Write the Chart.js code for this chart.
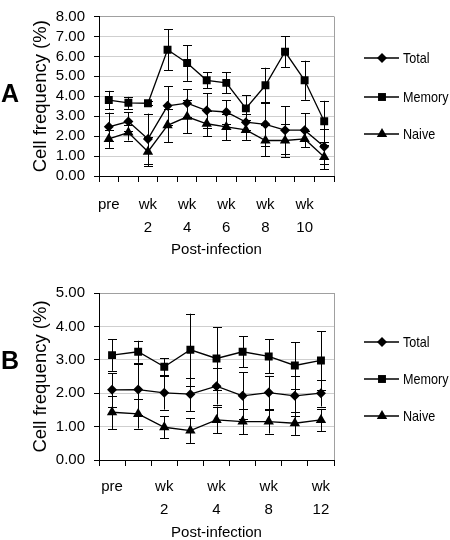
<!DOCTYPE html>
<html><head><meta charset="utf-8">
<script src="https://cdn.jsdelivr.net/npm/chart.js@4.4.1/dist/chart.umd.min.js"></script>
<style>
body{margin:0;background:#fff;width:450px;height:540px;overflow:hidden}
canvas{display:block}
</style>
</head><body>
<canvas id="chartA" width="450" height="270"></canvas>
<canvas id="chartB" width="450" height="270"></canvas>
<script>
// ---------- Panel A data ----------
const categoriesA = ['pre','wk 1','wk 2','wk 3','wk 4','wk 5','wk 6','wk 7','wk 8','wk 9','wk 10','wk 11'];
const totalA     = [2.47, 2.73, 1.86, 3.52, 3.65, 3.28, 3.21, 2.70, 2.59, 2.30, 2.30, 1.47];
const totalErrA  = [0.71, 0.46, 1.27, 0.98, 0.69, 0.86, 0.60, 0.40, 1.10, 1.19, 0.85, 0.88];
const memoryA    = [3.81, 3.67, 3.65, 6.33, 5.67, 4.80, 4.67, 3.39, 4.55, 6.23, 4.80, 2.75];
const memoryErrA = [0.46, 0.30, 0.10, 1.03, 0.90, 0.40, 0.53, 0.67, 0.88, 0.77, 0.98, 1.02];
const naiveA     = [1.86, 2.18, 1.22, 2.54, 2.97, 2.62, 2.46, 2.31, 1.78, 1.78, 1.86, 0.95];
const naiveErrA  = [0.45, 0.40, 0.72, 0.84, 0.83, 0.63, 0.66, 0.50, 0.78, 0.82, 0.40, 0.60];
const yTicksA    = [0, 8];

// ---------- Panel B data ----------
const categoriesB = ['pre','wk 1','wk 2','wk 3','wk 4','wk 6','wk 8','wk 10','wk 12'];
const totalB     = [2.10, 2.11, 2.01, 1.97, 2.21, 1.92, 2.02, 1.92, 2.00];
const totalErrB  = [0.50, 0.75, 0.50, 0.50, 0.55, 0.70, 0.50, 0.60, 0.40];
const memoryB    = [3.14, 3.24, 2.79, 3.30, 3.04, 3.24, 3.10, 2.83, 2.98];
const memoryErrB = [0.47, 0.33, 0.25, 1.08, 0.93, 0.46, 0.51, 0.70, 0.87];
const naiveB     = [1.43, 1.38, 0.98, 0.88, 1.20, 1.15, 1.15, 1.10, 1.20];
const naiveErrB  = [0.50, 0.44, 0.33, 0.37, 0.40, 0.38, 0.36, 0.35, 0.33];
const yTicksB    = [0, 5];

const seriesNames = ['Total','Memory','Naive'];
const FONT = "'Liberation Sans', Arial, sans-serif";

const errorBarPlugin = {
  id: 'errorBars',
  beforeDatasetsDraw(chart) {
    const ctx = chart.ctx, ys = chart.scales.y;
    ctx.save();
    ctx.strokeStyle = '#000';
    ctx.lineWidth = 1;
    chart.data.datasets.forEach((ds, i) => {
      const meta = chart.getDatasetMeta(i);
      meta.data.forEach((pt, j) => {
        const v = ds.data[j], e = ds.errors[j];
        const x = Math.round(pt.x) + 0.5;
        const y1 = ys.getPixelForValue(v + e), y2 = ys.getPixelForValue(v - e);
        ctx.beginPath();
        ctx.moveTo(x, y1); ctx.lineTo(x, y2);
        ctx.moveTo(x - 4.5, Math.round(y1) + 0.5); ctx.lineTo(x + 4.5, Math.round(y1) + 0.5);
        ctx.moveTo(x - 4.5, Math.round(y2) + 0.5); ctx.lineTo(x + 4.5, Math.round(y2) + 0.5);
        ctx.stroke();
      });
    });
    ctx.restore();
  }
};

const decorPlugin = {
  id: 'decor',
  afterDraw(chart, args, opts) {
    const ctx = chart.ctx, ca = chart.chartArea;
    ctx.save();
    // right plot border
    ctx.strokeStyle = '#a0a0a0';
    ctx.lineWidth = 1;
    ctx.beginPath();
    ctx.moveTo(Math.round(ca.right) + 0.5, ca.top);
    ctx.lineTo(Math.round(ca.right) + 0.5, ca.bottom);
    ctx.stroke();
    // panel letter
    ctx.fillStyle = '#000';
    ctx.font = 'bold 25px ' + FONT;
    ctx.textAlign = 'left';
    ctx.textBaseline = 'middle';
    ctx.fillText(opts.letter, 1, opts.letterY);
    // legend
    chart.data.datasets.forEach((ds, i) => {
      const y = opts.legendY[i];
      ctx.strokeStyle = '#000';
      ctx.lineWidth = 1.3;
      ctx.beginPath();
      ctx.moveTo(364, y); ctx.lineTo(399, y);
      ctx.stroke();
      ctx.fillStyle = '#000';
      Chart.helpers.drawPoint(ctx, {pointStyle: ds.pointStyle, radius: ds.pointRadius, rotation: 0, borderWidth: 0}, 382, y);
      ctx.save();
      ctx.translate(403, y);
      ctx.scale(0.84, 1);
      ctx.font = '15px ' + FONT;
      ctx.textAlign = 'left';
      ctx.textBaseline = 'middle';
      ctx.fillStyle = '#000';
      ctx.fillText(ds.label, 0, 1);
      ctx.restore();
    });
    ctx.restore();
  }
};

function makeChart(id, cats, vals, errs, yr, cfg) {
  const styles = [
    {pointStyle: 'rectRot', pointRadius: 5},
    {pointStyle: 'rect', pointRadius: 5.6},
    {pointStyle: 'triangle', pointRadius: 6}
  ];
  const datasets = vals.map((v, i) => ({
    label: seriesNames[i],
    data: v,
    errors: errs[i],
    borderColor: '#000',
    borderWidth: 1.3,
    backgroundColor: '#000',
    pointBackgroundColor: '#000',
    pointBorderColor: '#000',
    pointBorderWidth: 0,
    pointStyle: styles[i].pointStyle,
    pointRadius: styles[i].pointRadius,
    tension: 0,
    fill: false
  }));
  return new Chart(document.getElementById(id), {
    type: 'line',
    data: {labels: cats, datasets},
    plugins: [errorBarPlugin, decorPlugin],
    options: {
      responsive: false,
      animation: false,
      layout: {padding: {left: 0, right: 116, top: cfg.top, bottom: 0}},
      plugins: {
        legend: {display: false},
        tooltip: {enabled: false},
        decor: {letter: cfg.letter, letterY: cfg.letterY, legendY: cfg.legendY}
      },
      scales: {
        x: {
          type: 'category',
          offset: true,
          afterFit: s => { s.height = cfg.xHeight; },
          grid: {offset: true, drawOnChartArea: false, color: '#000', tickColor: '#000', tickLength: 6},
          border: {color: '#000', width: 1},
          ticks: {
            autoSkip: false, maxRotation: 0, minRotation: 0,
            color: '#000', padding: cfg.xPad,
            font: {family: FONT, size: 15, lineHeight: 23/15},
            callback: function(val, idx) {
              if (idx % 2 !== 0) return '';
              const l = cats[idx];
              return l.indexOf(' ') > 0 ? l.split(' ') : l;
            }
          },
          title: {
            display: true, text: 'Post-infection', color: '#000',
            font: {family: FONT, size: 15, lineHeight: cfg.titleLH},
            padding: {top: 0, bottom: cfg.titlePad}
          }
        },
        y: {
          min: yr[0], max: yr[1],
          afterFit: s => { s.width = 99; },
          grid: {
            color: ctx => (ctx.tick && ctx.tick.value === yr[1]) ? '#a0a0a0' : '#cfcfcf',
            tickColor: '#000', tickLength: 5, lineWidth: 1
          },
          border: {color: '#000', width: 1},
          ticks: {
            autoSkip: false, stepSize: 1, color: '#000', padding: 9,
            font: {family: FONT, size: 15, lineHeight: 1},
            callback: v => Number(v).toFixed(2)
          },
          title: {
            display: true, text: 'Cell frequency (%)', color: '#000',
            font: {family: FONT, size: 18.5, lineHeight: 1.2},
            padding: {top: 30, bottom: 0}
          }
        }
      }
    }
  });
}

makeChart('chartA', categoriesA, [totalA, memoryA, naiveA], [totalErrA, memoryErrA, naiveErrA], yTicksA,
  {top: 10, xHeight: 94, xPad: 11.5, titleLH: 1.2, titlePad: 11, letter: 'A', letterY: 95, legendY: [58, 97, 134]});
makeChart('chartB', categoriesB, [totalB, memoryB, naiveB], [totalErrB, memoryErrB, naiveErrB], yTicksB,
  {top: 23, xHeight: 80, xPad: 9, titleLH: 1.0, titlePad: 0, letter: 'B', letterY: 92, legendY: [72, 109, 146]});
</script>
</body></html>
